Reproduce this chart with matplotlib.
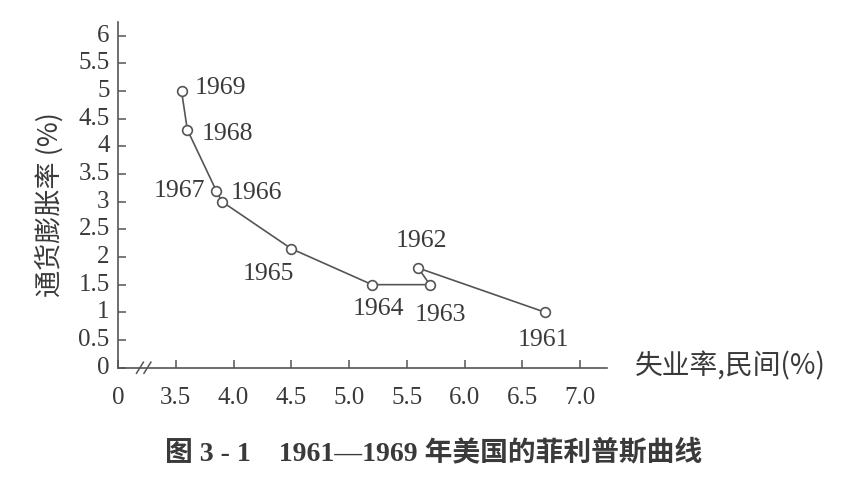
import matplotlib
matplotlib.use("Agg")
import matplotlib.pyplot as plt

# ---- data ----
years = [1961, 1962, 1963, 1964, 1965, 1966, 1967, 1968, 1969]
unemployment = [6.7, 5.6, 5.7, 5.2, 4.5, 3.9, 3.85, 3.6, 3.55]
inflation = [1.0, 1.8, 1.5, 1.5, 2.15, 3.0, 3.2, 4.3, 5.0]

x_ticks = [3.0, 3.5, 4.0, 4.5, 5.0, 5.5, 6.0, 6.5, 7.0]
x_tick_labels = ["0", "3.5", "4.0", "4.5", "5.0", "5.5", "6.0", "6.5", "7.0"]
y_ticks = [0, 0.5, 1, 1.5, 2, 2.5, 3, 3.5, 4, 4.5, 5, 5.5, 6]
y_tick_labels = ["0", "0.5", "1", "1.5", "2", "2.5", "3", "3.5", "4", "4.5", "5", "5.5", "6"]

x_label = "失业率,民间(%)"
y_label = "通货膨胀率 (%)"
caption = "图 3 - 1    1961—1969 年美国的菲利普斯曲线"

# label offsets (pixels) for each year annotation
label_offsets = {1961: (-2, -28), 1962: (3, 27), 1963: (11, -30), 1964: (6, -24),
                 1965: (-23, -25), 1966: (34, 9), 1967: (-37, 0), 1968: (40, -4),
                 1969: (39, 3)}

SERIF = ["Liberation Serif", "Noto Sans CJK SC", "DejaVu Sans"]
CJK = ["Noto Sans CJK SC", "DejaVu Sans"]
INK = "#3a3a3a"
LINE = "#555555"

W, H = 865, 483
fig = plt.figure(figsize=(W / 100, H / 100), dpi=100)
fig.patch.set_facecolor("white")

x0_px, y0_px = 118, 367.7
xtop_px = 21.7
xright_px = 607
px_per_x = 115.5
xmin = 3.0
xmax = xmin + (xright_px - x0_px) / px_per_x
ymax = 6.25

ax = fig.add_axes([x0_px / W, (H - y0_px) / H, (xright_px - x0_px) / W, (y0_px - xtop_px) / H])
ax.set_xlim(xmin, xmax)
ax.set_ylim(0, ymax)
for s in ["top", "right"]:
    ax.spines[s].set_visible(False)
for s in ["left", "bottom"]:
    ax.spines[s].set_color(LINE)
    ax.spines[s].set_linewidth(1.2)

ax.set_xticks(x_ticks)
ax.set_xticklabels(x_tick_labels, fontfamily=SERIF, fontsize=18, color=INK)
ax.set_yticks(y_ticks)
ax.set_yticklabels(y_tick_labels, fontfamily=SERIF, fontsize=18, color=INK)
ax.tick_params(axis="both", direction="in", length=6, width=1.1, colors=LINE)
ax.tick_params(axis="x", pad=14, labelcolor=INK)
ax.tick_params(axis="y", pad=6, labelcolor=INK)
for lab in ax.get_yticklabels():
    lab.set_verticalalignment("center")

# axis break marks
for bx in (3.19, 3.255):
    ax.plot([bx - 0.03, bx + 0.03], [-0.1, 0.1], color=LINE, lw=1.1, clip_on=False)

# curve and points
ax.plot(unemployment, inflation, color=LINE, lw=1.2, marker="o", markersize=7,
        markerfacecolor="white", markeredgecolor=LINE, markeredgewidth=1.2, zorder=3)

for yr, ux, iy in zip(years, unemployment, inflation):
    dx, dy = label_offsets[yr]
    ax.annotate(str(yr), (ux, iy), xytext=(dx, dy), textcoords="offset pixels",
                ha="center", va="center", fontfamily=SERIF, fontsize=18.5, color=INK)

# axis labels
fig.text(635 / W, 1 - 366 / H, x_label, ha="left", va="center",
         fontfamily=CJK, fontsize=20, color=INK)
fig.text(50 / W, 1 - 205 / H, y_label, ha="center", va="center", rotation=90,
         fontfamily=CJK, fontsize=19.5, color=INK)

# caption
fig.text(434 / W, 1 - 453 / H, caption, ha="center", va="center",
         fontfamily=SERIF, fontsize=20, fontweight="bold", color=INK)

fig.savefig("out.png", dpi=100, facecolor="white")
